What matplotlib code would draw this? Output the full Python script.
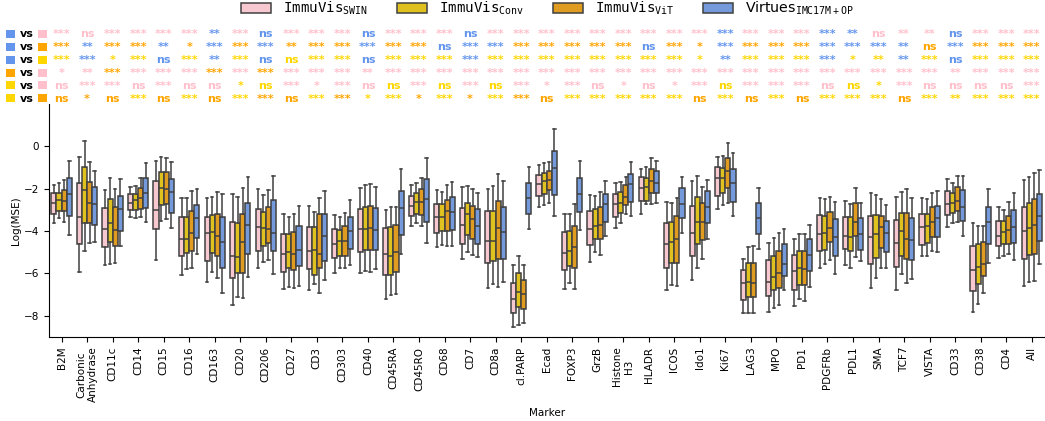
import colorsys
import matplotlib
matplotlib.use("Agg")
import matplotlib.pyplot as plt
import matplotlib.colors as mcolors
import matplotlib.transforms as mtransforms
from matplotlib.patches import Patch, Rectangle

# ---------------- data ----------------
markers = ["B2M", "Carbonic\nAnhydrase", "CD11c", "CD14", "CD15", "CD16", "CD163", "CD20",
           "CD206", "CD27", "CD3", "CD303", "CD40", "CD45RA", "CD45RO", "CD68", "CD7",
           "CD8a", "cl.PARP", "Ecad", "FOXP3", "GrzB", "Histone\nH3", "HLADR", "ICOS",
           "Ido1", "Ki67", "LAG3", "MPO", "PD1", "PDGFRb", "PDL1", "SMA", "TCF7", "VISTA",
           "CD33", "CD38", "CD4", "All"]

model_labels = [r"$\mathtt{ImmuVis}_{\mathtt{SWIN}}$", r"$\mathtt{ImmuVis}_{\mathtt{Conv}}$",
                r"$\mathtt{ImmuVis}_{\mathtt{ViT}}$", r"$\mathrm{Virtues}_{\mathtt{IMC17M+OP}}$"]

# box statistics per marker: (whisker low, q1, median, q3, whisker high)
swin_stats = [
    (-3.61, -3.17, -2.69, -2.22, -1.83), (-5.92, -4.61, -3.35, -1.75, -0.52),
    (-5.61, -4.74, -3.91, -2.93, -2.06), (-3.35, -3.01, -2.69, -2.27, -1.91),
    (-5.37, -3.91, -3.01, -1.64, -0.68), (-6.08, -5.17, -4.38, -3.32, -2.43),
    (-6.39, -5.42, -4.11, -3.35, -2.43), (-7.50, -6.20, -5.18, -3.56, -2.27),
    (-5.76, -4.93, -3.83, -2.96, -2.02), (-6.74, -5.95, -5.10, -4.14, -3.21),
    (-6.76, -5.81, -4.93, -3.80, -2.82), (-5.97, -5.29, -4.63, -3.92, -3.24),
    (-5.97, -4.98, -3.92, -2.98, -1.98), (-7.21, -6.08, -5.10, -3.87, -3.01),
    (-3.76, -3.28, -2.80, -2.33, -1.83), (-4.74, -4.11, -3.35, -2.74, -2.06),
    (-5.34, -4.61, -3.72, -2.90, -1.91), (-6.68, -5.50, -4.47, -3.06, -2.02),
    (-8.52, -7.86, -7.21, -6.44, -5.61), (-2.85, -2.35, -1.78, -1.35, -0.88),
    (-6.74, -5.84, -5.02, -4.06, -3.21), (-5.45, -4.66, -3.92, -3.06, -2.30),
    (-3.84, -3.32, -2.74, -2.25, -1.72), (-3.17, -2.58, -1.98, -1.46, -1.07),
    (-6.78, -5.76, -4.63, -3.64, -2.64), (-6.31, -5.17, -4.08, -2.80, -1.62),
    (-2.96, -2.33, -1.51, -0.99, -0.49), (-7.89, -7.23, -6.47, -5.84, -5.32),
    (-7.81, -7.06, -6.39, -5.37, -4.54), (-7.53, -6.76, -5.87, -5.13, -4.38),
    (-5.76, -4.94, -4.14, -3.24, -2.43), (-5.61, -4.85, -4.24, -3.32, -2.57),
    (-6.68, -5.56, -4.30, -3.29, -2.19), (-6.79, -5.69, -4.58, -3.48, -2.38),
    (-5.18, -4.66, -3.80, -3.17, -2.46), (-3.80, -3.24, -2.74, -2.11, -1.56),
    (-7.81, -6.83, -5.84, -4.69, -3.64), (-5.29, -4.71, -4.22, -3.51, -2.88),
    (-6.60, -5.34, -3.98, -2.85, -1.59)]

conv_stats = [
    (-3.40, -3.04, -2.54, -2.19, -1.72), (-4.93, -3.61, -2.06, -0.96, 0.25),
    (-5.56, -4.50, -3.61, -2.49, -1.48), (-3.37, -3.01, -2.54, -2.27, -1.87),
    (-3.51, -2.77, -1.98, -1.20, -0.49), (-5.81, -5.02, -4.38, -3.32, -2.46),
    (-5.92, -5.02, -4.06, -3.24, -2.38), (-7.10, -6.00, -5.21, -3.61, -2.41),
    (-5.48, -4.69, -3.84, -3.12, -2.30), (-6.63, -5.76, -5.01, -4.14, -3.35),
    (-6.50, -6.05, -4.87, -3.80, -3.12), (-5.72, -5.17, -4.47, -3.95, -3.35),
    (-5.87, -4.87, -3.92, -2.85, -1.83), (-7.02, -6.08, -5.17, -3.83, -2.85),
    (-3.64, -3.17, -2.65, -2.19, -1.75), (-4.66, -4.00, -3.35, -2.74, -2.14),
    (-4.98, -4.19, -3.21, -2.66, -1.87), (-6.52, -5.42, -4.47, -3.06, -1.86),
    (-8.41, -7.57, -6.87, -6.00, -5.17), (-2.77, -2.25, -1.64, -1.24, -0.80),
    (-6.47, -5.64, -4.93, -4.00, -3.17), (-5.01, -4.35, -3.75, -2.96, -2.33),
    (-3.61, -3.13, -2.66, -2.14, -1.67), (-2.72, -2.58, -1.94, -1.51, -0.96),
    (-6.55, -5.52, -4.50, -3.56, -2.69), (-5.73, -4.61, -3.59, -2.38, -1.40),
    (-2.77, -2.22, -1.51, -1.01, -0.46), (-7.86, -7.10, -6.39, -5.53, -4.74),
    (-7.61, -6.79, -6.16, -5.17, -4.31), (-7.21, -6.55, -5.76, -4.94, -4.16),
    (-5.57, -4.90, -4.11, -3.28, -2.50), (-5.73, -4.94, -4.27, -3.35, -2.72),
    (-6.20, -5.26, -4.14, -3.24, -2.30), (-6.03, -5.17, -4.00, -3.13, -2.14),
    (-5.18, -4.54, -3.75, -3.17, -2.49), (-3.64, -3.13, -2.69, -2.22, -1.75),
    (-7.42, -6.50, -5.69, -4.61, -3.76), (-5.18, -4.61, -4.06, -3.53, -3.01),
    (-6.39, -5.13, -3.84, -2.69, -1.46)]

vit_stats = [
    (-3.56, -3.06, -2.58, -2.06, -1.59), (-4.58, -3.64, -2.66, -1.67, -0.72),
    (-5.53, -4.69, -3.95, -2.88, -2.02), (-3.35, -2.96, -2.46, -1.98, -1.48),
    (-3.45, -2.74, -2.03, -1.20, -0.54), (-5.73, -4.93, -4.11, -3.06, -2.09),
    (-6.20, -5.18, -4.24, -3.17, -2.14), (-7.18, -6.00, -4.50, -3.21, -1.98),
    (-5.37, -4.58, -3.92, -2.85, -2.06), (-6.71, -5.84, -5.10, -4.06, -3.21),
    (-6.90, -5.73, -5.10, -3.21, -2.46), (-5.72, -5.17, -4.46, -3.75, -3.13),
    (-5.92, -4.87, -3.87, -2.82, -1.78), (-6.98, -5.92, -5.01, -3.72, -2.85),
    (-3.75, -3.24, -2.65, -2.03, -1.51), (-4.69, -4.00, -3.04, -2.54, -1.83),
    (-5.13, -4.39, -3.43, -2.82, -2.03), (-6.63, -5.34, -3.84, -2.58, -1.32),
    (-8.36, -7.70, -6.99, -6.31, -5.61), (-2.69, -2.06, -1.59, -1.17, -0.76),
    (-6.74, -5.72, -4.74, -3.75, -2.72), (-5.13, -4.38, -3.69, -2.85, -2.14),
    (-3.21, -2.77, -2.38, -1.83, -1.43), (-2.72, -2.19, -1.62, -1.09, -0.57),
    (-6.60, -5.52, -4.35, -3.29, -2.45), (-5.34, -4.43, -3.59, -2.66, -1.94),
    (-2.69, -1.98, -1.15, -0.57, 0.14), (-7.89, -7.13, -6.43, -5.53, -4.69),
    (-7.50, -6.68, -6.00, -4.93, -4.08), (-7.31, -6.55, -5.80, -4.93, -4.16),
    (-5.37, -4.50, -3.87, -3.09, -2.38), (-5.21, -4.22, -3.59, -2.69, -1.95),
    (-5.76, -4.82, -3.83, -3.28, -2.49), (-6.43, -5.32, -4.38, -3.13, -2.03),
    (-4.93, -4.30, -3.59, -2.88, -2.22), (-3.56, -3.06, -2.58, -1.94, -1.40),
    (-6.91, -6.11, -5.56, -4.50, -3.75), (-5.09, -4.61, -3.95, -3.28, -2.61),
    (-6.35, -5.06, -3.72, -2.50, -1.24)]

virtues_stats = [
    (-4.19, -3.29, -2.27, -1.51, -0.69), (-4.50, -3.72, -2.74, -1.94, -1.15),
    (-4.71, -3.98, -2.98, -2.33, -1.54), (-3.56, -2.90, -2.19, -1.51, -0.80),
    (-3.87, -3.13, -2.17, -1.54, -0.76), (-5.10, -4.31, -3.40, -2.77, -2.03),
    (-6.91, -5.73, -4.50, -3.35, -2.27), (-6.19, -5.06, -3.69, -2.66, -1.46),
    (-6.03, -4.93, -4.08, -2.54, -1.40), (-6.60, -5.64, -4.90, -3.75, -2.82),
    (-6.31, -5.42, -4.24, -3.20, -2.11), (-5.61, -4.85, -4.00, -3.32, -2.53),
    (-5.81, -4.90, -3.95, -2.90, -1.91), (-5.10, -4.19, -2.93, -2.11, -1.09),
    (-4.58, -3.59, -2.50, -1.54, -0.54), (-4.69, -3.95, -3.09, -2.41, -1.70),
    (-5.24, -4.61, -3.75, -2.96, -2.19), (-6.39, -5.32, -4.06, -2.85, -1.62),
    (-3.92, -3.21, -2.43, -1.75, -0.96), (-3.29, -2.30, -1.01, -0.22, 0.80),
    (-3.95, -3.12, -2.27, -1.51, -0.69), (-4.24, -3.59, -2.74, -2.27, -1.62),
    (-3.29, -2.65, -1.80, -1.32, -0.72), (-2.66, -2.22, -1.75, -1.17, -0.68),
    (-4.10, -3.40, -2.72, -1.98, -1.43), (-4.38, -3.64, -2.85, -2.11, -1.59),
    (-3.29, -2.61, -1.75, -1.09, -0.30), (-4.85, -4.14, -3.37, -2.66, -1.95),
    (-6.76, -6.11, -5.57, -4.63, -3.92), (-6.63, -5.89, -5.13, -4.38, -3.69),
    (-6.03, -5.18, -4.27, -3.45, -2.65), (-5.40, -4.87, -4.14, -3.37, -2.69),
    (-5.76, -5.01, -4.11, -3.51, -2.77), (-6.28, -5.37, -4.42, -3.40, -2.46),
    (-4.98, -4.27, -3.40, -2.80, -2.09), (-4.24, -3.51, -2.85, -2.06, -1.39),
    (-5.50, -4.63, -3.56, -2.88, -2.02), (-5.37, -4.58, -3.80, -3.01, -2.19),
    (-5.57, -4.47, -3.29, -2.25, -1.12)]

# significance rows: (left model, right model) and per-marker label + colour key
comparisons = [("B", "P"), ("B", "O"), ("B", "Y"), ("O", "P"), ("Y", "P"), ("Y", "O")]
sig_labels = [
    "*** ns *** *** *** *** ** *** ns *** *** *** ns *** *** *** ns *** *** *** *** *** *** *** *** *** *** *** *** *** *** ** ns ** ** ns *** *** ***",
    "*** ** *** *** ** * *** *** *** ** *** *** *** *** *** ns *** *** *** *** *** *** *** ns *** * *** *** *** *** *** *** *** ** ns *** *** *** ***",
    "*** *** * *** ns *** ** *** ns ns *** *** ns *** *** *** *** *** *** *** *** *** *** *** *** * ** *** *** *** *** * ** ** *** ns *** *** ***",
    "* ** *** *** *** *** *** *** *** *** *** *** ** *** *** *** *** *** *** *** *** *** *** *** *** *** *** *** *** *** *** *** *** *** *** ** *** *** ***",
    "ns *** *** ns *** ns ns * ns *** * *** ns ns *** ns *** ns *** * *** ns * ns * *** ns *** *** *** ns ns * *** ns ns ns ns ***",
    "ns * ns *** ns *** ns *** *** ns *** *** * *** * *** * *** *** ns *** *** *** *** *** ns *** ns *** ns *** *** *** ns *** ** *** *** ***",
]
sig_colors = [
    "PPPPPPBPBPPPBPPPBPPPPPPPPPBPPPBBPPPBPPP",
    "OBOOBOBOBOOOBOOBBBOOOOOBOOBOOOBBBBOBOOO",
    "YBYYBYBYBYYYBYYYBYYYYYYYYYBYYYBYYBYBYYY",
    "PPOPPPOPOPPPPPPPPPPPPPPPPPPPPPPPPPPPPPP",
    "PPPPPPPYYPPPPYPYPYPPPPPPPPYPPPPYYPPPPPP",
    "OOOYOYOYOOYOYYOYOYOOYYYYYOYOYOYYYOYYYYY",
]

# ---------------- style ----------------
base = {"P": "#FFC0CB", "Y": "#FFD700", "O": "#FFA500", "B": "#6495ED"}
order = ["P", "Y", "O", "B"]


def desat(c, prop=0.75):
    r, g, b = mcolors.to_rgb(c)
    h, l, s = colorsys.rgb_to_hls(r, g, b)
    return colorsys.hls_to_rgb(h, l, s * prop)


box_colors = [desat(base[k]) for k in order]
line_col = "#404040"

W, H = 1045, 421
fig = plt.figure(figsize=(W / 100, H / 100), dpi=100)
ax = fig.add_axes([48.8 / W, 1 - 337 / H, (1044.5 - 48.8) / W, (337 - 104) / H])

all_stats = [swin_stats, conv_stats, vit_stats, virtues_stats]
offsets = [-0.3, -0.1, 0.1, 0.3]
for m, (stats, off) in enumerate(zip(all_stats, offsets)):
    bxp_stats = [dict(whislo=s[0], q1=s[1], med=s[2], q3=s[3], whishi=s[4], fliers=[])
                 for s in stats]
    ax.bxp(bxp_stats, positions=[i + off for i in range(len(markers))], widths=0.2,
           patch_artist=True, showfliers=False, manage_ticks=False,
           boxprops=dict(facecolor=box_colors[m], edgecolor=line_col, linewidth=1.1),
           whiskerprops=dict(color=line_col, linewidth=1.1),
           capprops=dict(color=line_col, linewidth=1.1),
           medianprops=dict(color=line_col, linewidth=1.1))

ax.set_xlim(-0.5, len(markers) - 0.5)
ax.set_ylim(-9, 2)
ax.set_yticks([0, -2, -4, -6, -8])
ax.set_xticks(range(len(markers)))
ax.set_xticklabels(markers, rotation=90, fontsize=7.5)
ax.tick_params(axis="y", labelsize=7.5)
ax.set_ylabel("Log(MSE)", fontsize=7.5, labelpad=2)
ax.set_xlabel("Marker", fontsize=7.5)
for s in ["top", "right"]:
    ax.spines[s].set_visible(False)

# significance annotations
trans = mtransforms.blended_transform_factory(ax.transData, fig.transFigure)
for r, ((lk, rk), labs, cols) in enumerate(zip(comparisons, sig_labels, sig_colors)):
    base_y = 37.3 + 12.9 * r
    for i, (lab, ck) in enumerate(zip(labs.split(), cols)):
        ax.text(i, 1 - base_y / H, lab, transform=trans, ha="center", va="baseline",
                fontsize=8, fontweight="bold", color=base[ck], clip_on=False)
    fig.add_artist(Rectangle((6 / W, 1 - (base_y + 0.5) / H), 9 / W, 8 / H,
                             transform=fig.transFigure, color=base[lk], lw=0))
    fig.add_artist(Rectangle((38 / W, 1 - (base_y + 0.5) / H), 9 / W, 8 / H,
                             transform=fig.transFigure, color=base[rk], lw=0))
    fig.text(26.5 / W, 1 - base_y / H, "vs", ha="center", va="baseline",
             fontsize=8, fontweight="bold", color="black")

handles = [Patch(facecolor=c, edgecolor=line_col, linewidth=1.1) for c in box_colors]
fig.legend(handles, model_labels, loc="center", bbox_to_anchor=(547.5 / W, 1 - 8.5 / H),
           ncol=4, frameon=False, fontsize=10.2, handlelength=2.1, handleheight=0.75,
           handletextpad=0.85, columnspacing=2.05, borderpad=0)

fig.savefig("out.png", dpi=100)
